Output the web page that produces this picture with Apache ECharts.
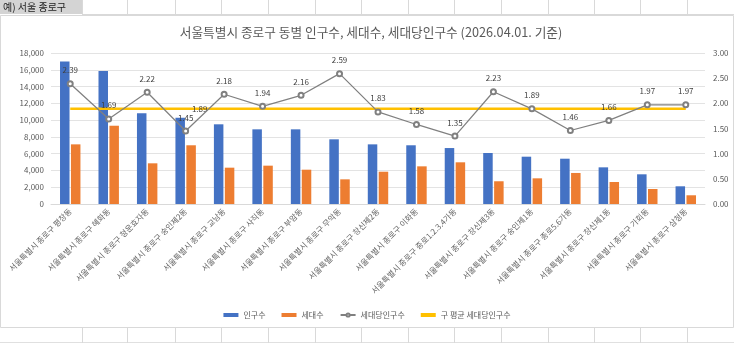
<!DOCTYPE html>
<html><head><meta charset="utf-8">
<script src="https://cdn.jsdelivr.net/npm/echarts@6/dist/echarts.min.js"></script>
<style>html,body{margin:0;padding:0;background:#fff}#c{width:734px;height:343px}</style>
</head><body><div id="c"></div>
<script>
const categories = [
  '서울특별시 종로구 평창동','서울특별시 종로구 혜화동','서울특별시 종로구 청운효자동','서울특별시 종로구 숭인제2동',
  '서울특별시 종로구 교남동','서울특별시 종로구 사직동','서울특별시 종로구 부암동','서울특별시 종로구 무악동',
  '서울특별시 종로구 창신제2동','서울특별시 종로구 이화동','서울특별시 종로구 종로1.2.3.4가동','서울특별시 종로구 창신제3동',
  '서울특별시 종로구 숭인제1동','서울특별시 종로구 종로5.6가동','서울특별시 종로구 창신제1동','서울특별시 종로구 가회동',
  '서울특별시 종로구 삼청동'
];
const population = [17000,15850,10810,10290,9500,8900,8900,7710,7110,7000,6670,6080,5640,5400,4370,3540,2110];
const households = [7110,9330,4850,7000,4330,4570,4090,2940,3850,4490,4970,2710,3060,3700,2620,1790,1040];
const perHousehold = [2.39,1.69,2.22,1.45,2.18,1.94,2.16,2.59,1.83,1.58,1.35,2.23,1.89,1.46,1.66,1.97,1.97];
const districtAvg = 1.89;
const leftTicks = {min:0, max:18000, interval:2000};
const rightTicks = {min:0, max:3, interval:0.5};
const titleText = '서울특별시 종로구 동별 인구수, 세대수, 세대당인구수 (2026.04.01. 기준)';
const sheetLabel = '예) 서울 종로구';

const chart = echarts.init(document.getElementById('c'), null, {renderer:'canvas'});
const FONT = '"Noto Sans CJK KR","Noto Sans",sans-serif';

// spreadsheet decoration
const graphics = [];
graphics.push({type:'rect', shape:{x:0.5,y:15.5,width:733,height:312}, style:{fill:'#fff', stroke:'#d9d9d9', lineWidth:1}, z:-10});
graphics.push({type:'rect', shape:{x:0,y:0,width:82,height:14}, style:{fill:'#d4d4d4'}, z:-9});
graphics.push({type:'text', x:3, y:7, style:{text:sheetLabel, font:'10px '+FONT, fill:'#222', verticalAlign:'middle'}, z:-8});
const cellXs = [82,127,175,221,268,315,361,408,454,501,548,594,640,687];
graphics.push({type:'line', shape:{x1:82,y1:14.5,x2:734,y2:14.5}, style:{stroke:'#d9d9d9',lineWidth:1}, z:-9});
graphics.push({type:'line', shape:{x1:0,y1:342.5,x2:734,y2:342.5}, style:{stroke:'#e0e0e0',lineWidth:1}, z:-9});
cellXs.forEach(x=>{
  graphics.push({type:'line', shape:{x1:x+0.5,y1:0,x2:x+0.5,y2:14}, style:{stroke:'#d9d9d9',lineWidth:1}, z:-9});
  graphics.push({type:'line', shape:{x1:x+0.5,y1:328,x2:x+0.5,y2:343}, style:{stroke:'#d9d9d9',lineWidth:1}, z:-9});
});

chart.setOption({
  animation:false,
  backgroundColor:'#fff',
  textStyle:{fontFamily:FONT},
  graphic:graphics,
  title:{text:titleText, left:366, top:21, textAlign:'center',
    textStyle:{fontSize:12.7, fontWeight:'normal', color:'#595959', fontFamily:FONT}},
  legend:{bottom:19, left:'center', itemGap:16, itemWidth:15, itemHeight:4,
    textStyle:{fontSize:8, color:'#595959', fontFamily:FONT},
    data:[{name:'인구수', icon:'rect'},{name:'세대수', icon:'rect'},{name:'세대당인구수'},{name:'구 평균 세대당인구수', icon:'rect'}]},
  grid:{left:51, right:29, top:53, bottom:139, containLabel:false},
  xAxis:{type:'category', data:categories,
    axisLine:{lineStyle:{color:'#d9d9d9'}}, axisTick:{show:false},
    axisLabel:{rotate:45, interval:0, fontSize:8, color:'#666', margin:6, fontFamily:FONT}},
  yAxis:[
    {type:'value', min:leftTicks.min, max:leftTicks.max, interval:leftTicks.interval,
      axisLine:{show:false}, axisTick:{show:false},
      axisLabel:{fontSize:8, color:'#595959', margin:7, formatter:v=>v.toLocaleString('en-US')},
      splitLine:{lineStyle:{color:'#e3e3e3'}}},
    {type:'value', min:rightTicks.min, max:rightTicks.max, interval:rightTicks.interval,
      axisLine:{show:false}, axisTick:{show:false},
      axisLabel:{fontSize:8, color:'#595959', margin:8, formatter:v=>v.toFixed(2)},
      splitLine:{show:false}}
  ],
  series:[
    {name:'인구수', type:'bar', data:population, barWidth:9.5, barGap:'15%', itemStyle:{color:'#4472c4'}},
    {name:'세대수', type:'bar', data:households, barWidth:9.5, barGap:'15%', itemStyle:{color:'#ed7d31'}},
    {name:'구 평균 세대당인구수', type:'line', yAxisIndex:1, z:3,
      data:categories.map((c,i)=> i===3 ? {value:districtAvg, label:{show:true, position:'inside', offset:[14,0], fontSize:8, color:'#404040', formatter:p=>p.value.toFixed(2)}} : districtAvg),
      symbol:'circle', symbolSize:0, showSymbol:true, lineStyle:{color:'#ffc000', width:2.5}, itemStyle:{color:'#ffc000'},
      label:{show:false}},
    {name:'세대당인구수', type:'line', yAxisIndex:1, data:perHousehold, z:4,
      symbol:'emptyCircle', symbolSize:5,
      lineStyle:{color:'#808080', width:1.25}, itemStyle:{color:'#808080', borderColor:'#808080', borderWidth:1},
      label:{show:true, position:'top', distance:6, fontSize:8, color:'#404040', formatter:p=>p.value.toFixed(2)}}
  ]
});
</script></body></html>
